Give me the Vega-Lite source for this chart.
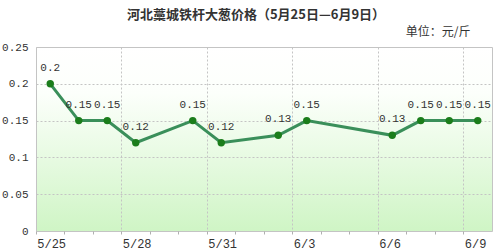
{
  "$schema": "https://vega.github.io/schema/vega-lite/v6.json",
  "width": 456,
  "height": 184,
  "autosize": "none",
  "padding": {"left": 36, "top": 47, "right": 8, "bottom": 19},
  "background": "white",
  "title": {
    "text": "河北藁城铁杆大葱价格（5月25日—6月9日）",
    "font": "Noto Sans CJK SC",
    "fontSize": 13,
    "fontWeight": "bold",
    "color": "#333333",
    "anchor": "middle",
    "dx": -8,
    "offset": 3
  },
  "config": {
    "view": {
      "stroke": "#c4c4c4",
      "fill": {
        "gradient": "linear",
        "x1": 0, "y1": 0, "x2": 0, "y2": 1,
        "stops": [
          {"offset": 0, "color": "#ffffff"},
          {"offset": 0.25, "color": "#fcfffb"},
          {"offset": 1, "color": "#cff5c5"}
        ]
      }
    }
  },
  "data": {
    "values": [
      {"date": "2024-05-25", "price": 0.2},
      {"date": "2024-05-26", "price": 0.15},
      {"date": "2024-05-27", "price": 0.15},
      {"date": "2024-05-28", "price": 0.12},
      {"date": "2024-05-30", "price": 0.15},
      {"date": "2024-05-31", "price": 0.12},
      {"date": "2024-06-02", "price": 0.13},
      {"date": "2024-06-03", "price": 0.15},
      {"date": "2024-06-06", "price": 0.13},
      {"date": "2024-06-07", "price": 0.15},
      {"date": "2024-06-08", "price": 0.15},
      {"date": "2024-06-09", "price": 0.15}
    ]
  },
  "encoding": {
    "x": {
      "field": "date",
      "type": "ordinal",
      "bandPosition": 0.5,
      "scale": {
        "type": "band",
        "paddingInner": 0,
        "paddingOuter": 0,
        "domain": ["2024-05-25","2024-05-26","2024-05-27","2024-05-28","2024-05-29","2024-05-30","2024-05-31","2024-06-01","2024-06-02","2024-06-03","2024-06-04","2024-06-05","2024-06-06","2024-06-07","2024-06-08","2024-06-09"]
      },
      "axis": {
        "title": null,
        "bandPosition": 0,
        "labelExpr": "indexof(['2024-05-25','2024-05-28','2024-05-31','2024-06-03','2024-06-06','2024-06-09'], datum.value) >= 0 ? toNumber(slice(datum.value,5,7)) + '/' + toNumber(slice(datum.value,8,10)) : ''",
        "labelAlign": "left",
        "labelAngle": 0,
        "labelBaseline": "top",
        "labelPadding": 4,
        "labelOffset": -13,
        "labelOverlap": false,
        "labelFlush": false,
        "labelFont": "Liberation Mono",
        "labelFontSize": 12,
        "labelColor": "#333333",
        "grid": true,
        "gridOpacity": {"condition": {"test": "indexof(['2024-05-28','2024-05-31','2024-06-03','2024-06-06','2024-06-09'], datum.value) >= 0", "value": 1}, "value": 0},
        "gridDash": [2, 2],
        "gridColor": "#c4c4c4",
        "ticks": true,
        "tickSize": 3,
        "tickColor": "#b0b0b0",
        "domain": false
      }
    },
    "y": {
      "field": "price",
      "type": "quantitative",
      "scale": {"domain": [0, 0.25], "nice": false, "zero": true},
      "axis": {
        "values": [0, 0.05, 0.1, 0.15, 0.2, 0.25],
        "format": ".2~f",
        "title": "单位：元/斤",
        "titleFont": "Noto Sans CJK SC",
        "titleFontSize": 12,
        "titleFontWeight": "normal",
        "titleColor": "#333333",
        "titleAngle": 0,
        "titleAlign": "right",
        "titleBaseline": "alphabetic",
        "titleX": 434,
        "titleY": -12,
        "ticks": false,
        "domain": false,
        "labelPadding": 8,
        "labelFont": "Liberation Mono",
        "labelFontSize": 11,
        "labelColor": "#333333",
        "grid": true,
        "gridDash": [2, 2],
        "gridColor": "#c4c4c4"
      }
    }
  },
  "layer": [
    {"mark": {"type": "line", "color": "#3a8f5a", "strokeWidth": 3}},
    {"mark": {"type": "point", "filled": true, "color": "#1b7d1b", "size": 55, "opacity": 1}},
    {
      "mark": {"type": "text", "dy": -16, "font": "Liberation Mono", "fontSize": 11, "color": "#333333", "baseline": "middle"},
      "encoding": {"text": {"field": "price", "type": "nominal"}}
    }
  ]
}
